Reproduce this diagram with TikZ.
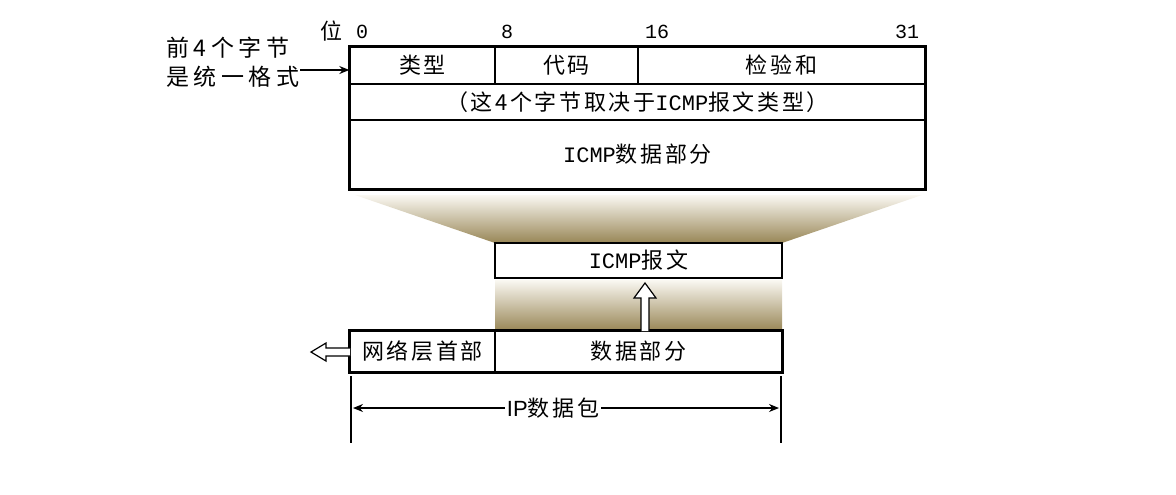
\documentclass[tikz,border=0pt]{standalone}
\usepackage{fontspec}
\newfontfamily\cjk[LetterSpace=12]{Noto Sans CJK SC}
\newfontfamily\cjkwide[LetterSpace=20]{Noto Sans CJK SC}
\newfontfamily\mono{Liberation Mono}
\usetikzlibrary{arrows.meta}
\definecolor{trapdark}{RGB}{152,134,86}
\definecolor{traplight}{RGB}{250,248,242}
\tikzset{
  cell/.style={draw=black, line width=0.7pt, inner sep=0pt, font=\cjk\fontsize{11}{13}\selectfont, anchor=center},
  lbl/.style={inner sep=0pt, font=\cjk\fontsize{11}{13}\selectfont},
  bitlbl/.style={inner sep=0pt, font=\mono\fontsize{10}{12}\selectfont},
  outer/.style={draw=black, line width=1.2pt},
  hollow/.style={draw=black, line width=0.6pt, fill=white},
}
\begin{document}
\begin{tikzpicture}[x=0.5pt,y=-0.5pt]
\useasboundingbox (0,0) rectangle (1176,494);
% gradients
\shade[top color=traplight, bottom color=trapdark] (355,195) -- (922,195) -- (782,243) -- (495,243) -- cycle;
\shade[top color=traplight, bottom color=trapdark] (495,280) rectangle (782,331);
% top ICMP header
\node[cell, minimum width=72.5pt, minimum height=18.5pt] (type) at (422.5,65.5) {类型};
\node[cell, minimum width=71.5pt, minimum height=18.5pt] (code) at (566.5,65.5) {代码};
\node[cell, minimum width=143.5pt, minimum height=18.5pt] (chk) at (781.5,65.5) {检验和};
\node[cell, minimum width=287.5pt, minimum height=18pt] (rest) at (637.5,102) {（这4个字节取决于{\mono ICMP}报文类型）};
\node[cell, minimum width=287.5pt, minimum height=34.5pt] (idata) at (637.5,154.5) {{\mono ICMP}数据部分};
\draw[outer] (type.north west) rectangle (idata.south east);
% bit labels
\node[lbl] (wei) at (331,31) {位};
\node[bitlbl] (b0) at (362,32) {0};
\node[bitlbl] (b8) at (507,32) {8};
\node[bitlbl] (b16) at (657,32) {16};
\node[bitlbl] (b31) at (907,32) {31};
% left note
\node[inner sep=0pt, font=\cjkwide\fontsize{11.5}{14.5}\selectfont, align=left, anchor=east] (note) at (300,62) {前4个字节\\是统一格式};
\draw[line width=0.6pt, -{Stealth[length=5pt,width=4pt]}] (note.east |- 0,70) -- (type.west |- 0,70);
% ICMP message
\node[cell, line width=1.2pt, minimum width=143.5pt, minimum height=17.5pt] (msg) at (638.5,260.5) {{\mono ICMP}报文};
% IP packet
\node[cell, minimum width=72.5pt, minimum height=20.5pt] (nhdr) at (422.5,351.5) {网络层首部};
\node[cell, minimum width=143.5pt, minimum height=20.5pt] (ipdata) at (638.5,351.5) {数据部分};
\draw[outer] (nhdr.north west) rectangle (ipdata.south east);
% hollow up arrow
\draw[hollow] (641,331) -- (641,298) -- (634,298) -- (645,283) -- (656,298) -- (649,298) -- (649,331);
% hollow left arrow
\draw[hollow] (350,348) -- (326,348) -- (326,343) -- (311,352) -- (326,361) -- (326,356) -- (350,356);
% IP datagram dimension
\coordinate (l1) at (351,376);
\coordinate (l2) at (351,443);
\coordinate (r1) at (781,376);
\coordinate (r2) at (781,443);
\draw[line width=0.6pt] (l1) -- (l2);
\draw[line width=0.6pt] (r1) -- (r2);
\node[lbl, fill=white, inner sep=1pt] (ipd) at (553,408) {{\fontspec{Liberation Sans}IP}数据包};
\draw[line width=0.6pt, -{Stealth[length=5pt,width=4pt]}] (ipd.west) -- (353,408);
\draw[line width=0.6pt, -{Stealth[length=5pt,width=4pt]}] (ipd.east) -- (779,408);
\end{tikzpicture}
\end{document}
